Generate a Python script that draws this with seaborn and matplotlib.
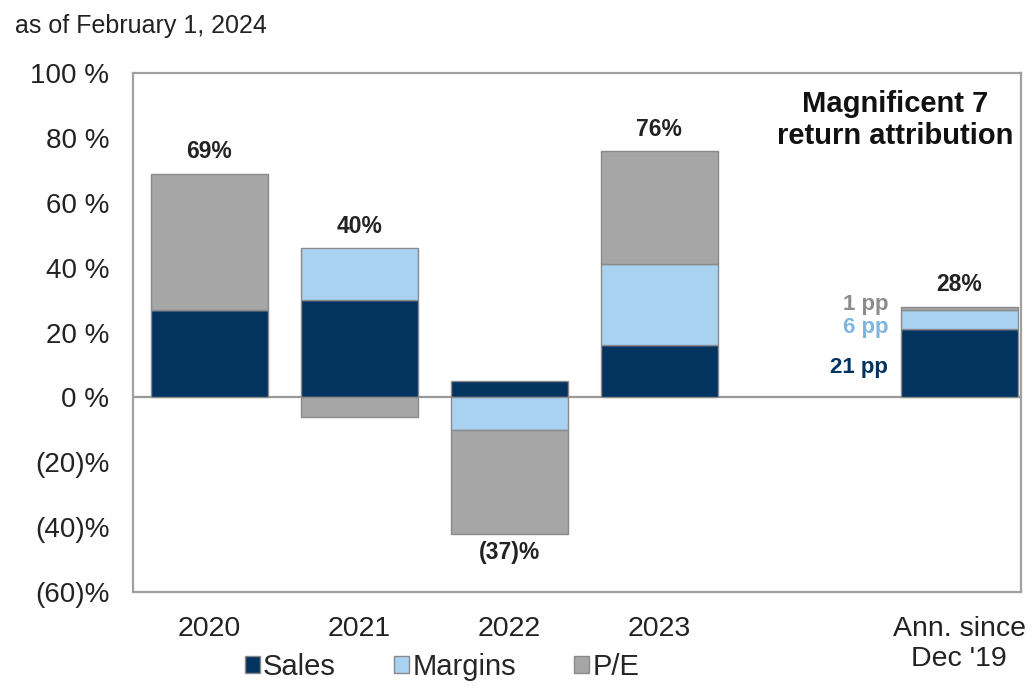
import numpy as np
import pandas as pd
import seaborn as sns
import matplotlib.pyplot as plt
from matplotlib.patches import Patch

# data (percentage points)
categories = ["2020", "2021", "2022", "2023", "Ann. since\nDec '19"]
positions = [0, 1, 2, 3, 5]
sales = [27, 30, 5, 16, 21]
margins = [0, 16, -10, 25, 6]
pe = [42, -6, -32, 35, 1]
totals = [69, 40, -37, 76, 28]
total_labels = ["69%", "40%", "(37)%", "76%", "28%"]
pp_labels = ["21 pp", "6 pp", "1 pp"]

components = ["Sales", "Margins", "P/E"]
colors = {"Sales": "#033460", "Margins": "#a9d1f0", "P/E": "#a6a6a6"}

sns.set_theme(style="white")
plt.rcParams["font.family"] = ["Liberation Sans", "DejaVu Sans"]

fig = plt.figure(figsize=(10.33, 6.91), dpi=100)
ax = fig.add_axes([0.1288, 0.1433, 0.8596, 0.751])

# stack positives up from zero and negatives down from zero
pos_base = np.zeros(len(positions))
neg_base = np.zeros(len(positions))
bottoms = {}
for name, vals in zip(components, [sales, margins, pe]):
    v = np.array(vals, dtype=float)
    b = np.where(v >= 0, pos_base, neg_base)
    bottoms[name] = b
    df = pd.DataFrame({"pos": positions, "val": v})
    sns.barplot(data=df, x="pos", y="val", native_scale=True, width=0.78,
                color=colors[name], saturation=1, bottom=b,
                edgecolor="#8a8a8a", linewidth=1.0, ax=ax, errorbar=None)
    pos_base = pos_base + np.where(v >= 0, v, 0)
    neg_base = neg_base + np.where(v < 0, v, 0)

ax.axhline(0, color="#9a9a9a", lw=1.6, zorder=0.5)

ax.set_ylim(-60, 100)
ax.set_xlim(-0.507, 5.413)
yt = np.arange(-60, 101, 20)
ax.set_yticks(yt)
ax.set_yticklabels([f"{t} %" if t >= 0 else f"({-t})%" for t in yt], fontsize=20)
ax.set_xticks(positions)
ax.set_xticklabels(categories, fontsize=20.5)
ax.tick_params(axis="y", length=0, pad=17, colors="#222222")
ax.tick_params(axis="x", length=0, pad=17, colors="#222222")
ax.set_xlabel("")
ax.set_ylabel("")
for s in ax.spines.values():
    s.set_color("#a0a0a0")
    s.set_linewidth(1.6)

# total labels
for p, t, lab, top, bot in zip(positions, totals, total_labels, pos_base, neg_base):
    if t >= 0:
        ax.annotate(lab, (p, top), xytext=(0, 11), textcoords="offset points",
                    ha="center", va="baseline", fontsize=16.5, fontweight="bold", color="#222222")
    else:
        ax.annotate(lab, (p, bot), xytext=(0, -5), textcoords="offset points",
                    ha="center", va="top", fontsize=16.5, fontweight="bold", color="#222222")

# pp labels next to the annualised bar
i = len(positions) - 1
offsets = {"Sales": -7, "Margins": -9.5, "P/E": -1}
text_cols = {"Sales": "#033460", "Margins": "#7fb6e0", "P/E": "#8c8c8c"}
for name, lab in zip(components, pp_labels):
    vals = {"Sales": sales, "Margins": margins, "P/E": pe}[name]
    mid = bottoms[name][i] + vals[i] / 2
    ax.annotate(lab, (positions[i] - 0.39, mid), xytext=(-9, offsets[name]),
                textcoords="offset points", ha="right", va="baseline",
                fontsize=16, fontweight="bold", color=text_cols[name])

ax.text(0.858, 0.968, "Magnificent 7\nreturn attribution", transform=ax.transAxes,
        ha="center", va="top", fontsize=21, fontweight="bold", color="#111111",
        linespacing=1.18)

fig.text(0.0145, 0.952, "as of February 1, 2024", fontsize=18, color="#222222")

handles = [Patch(facecolor=colors[c], edgecolor="#8a8a8a") for c in components]
fig.legend(handles, components, loc="center", bbox_to_anchor=(0.428, 0.035), ncol=3,
           frameon=False, fontsize=21, handlelength=0.52, handleheight=0.52,
           handletextpad=0.1, columnspacing=2.0, borderpad=0)

fig.savefig("out.png", dpi=100)
